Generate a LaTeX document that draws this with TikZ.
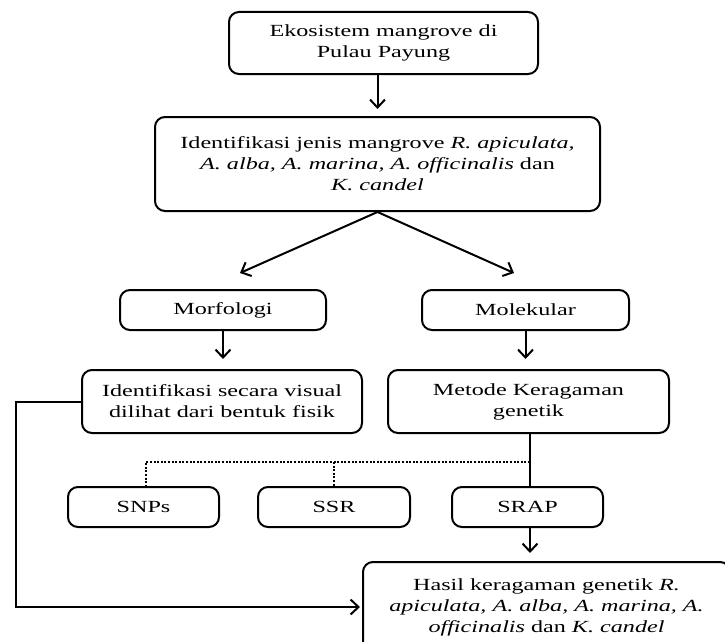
\documentclass[tikz,border=0pt]{standalone}
\usepackage{fontspec}
\setmainfont{Liberation Serif}[FakeStretch=1.42]
\usetikzlibrary{arrows.meta}
\begin{document}
\begin{tikzpicture}[x=1pt,y=-1pt,
  box/.style={draw, line width=2pt, rounded corners=10pt, align=center, inner sep=0pt,
    font=\fontsize{17}{21}\selectfont},
  arr/.style={-{Straight Barb[length=8pt,width=15pt,line width=2pt]}, line width=2pt},
  link/.style={line width=2pt},
  dots/.style={line width=2pt, dash pattern=on 2pt off 1.6pt}]
\useasboundingbox (0,0) rectangle (725,642);
\node[box, minimum width=309pt, minimum height=62pt] (b1) at (383.5,43)
  {\fontsize{17}{24}\selectfont Ekosistem mangrove di\\Pulau Payung};
\node[box, minimum width=445pt, minimum height=94pt] (b2) at (377.5,164)
  {Identifikasi jenis mangrove \textit{R. apiculata,}\\\textit{A. alba, A. marina, A. officinalis} dan\\\textit{K. candel}};
\node[box, minimum width=206pt, minimum height=40pt] (morf) at (223,310) {Morfologi};
\node[box, minimum width=207pt, minimum height=40pt] (molek) at (525.5,310) {Molekular};
\node[box, minimum width=280pt, minimum height=63pt] (vis) at (222,401.5)
  {Identifikasi secara visual\\dilihat dari bentuk fisik};
\node[box, minimum width=281pt, minimum height=63pt] (met) at (528.5,401.5)
  {Metode Keragaman\\genetik};
\node[box, minimum width=151pt, minimum height=40pt] (snps) at (143.5,507) {SNPs};
\node[box, minimum width=152pt, minimum height=40pt] (ssr) at (334,507) {SSR};
\node[box, minimum width=151pt, minimum height=40pt] (srap) at (527.5,507) {SRAP};
\node[box, minimum width=367pt, minimum height=90pt] (hasil) at (546.5,607)
  {Hasil keragaman genetik \textit{R.}\\\textit{apiculata, A. alba, A. marina, A.}\\\textit{officinalis} dan \textit{K. candel}};
\coordinate (tl) at (240,273);
\coordinate (tr) at (514,273);
\coordinate (dj) at (530,462);
% connectors
\draw[arr, shorten >=7pt] (b1.south -| b2.north) -- (b2.north);
\draw[arr] (b2.south) -- (tl);
\draw[arr] (b2.south) -- (tr);
\draw[arr, shorten >=10pt] (morf.south) -- (morf.south |- vis.north);
\draw[arr, shorten >=10pt] (molek.south) -- (molek.south |- met.north);
\draw[link] (dj |- met.south) -- (dj |- srap.north);
\draw[dots] (dj) -- (146,462) -- (146,487);
\draw[dots] (ssr.north |- dj) -- (ssr.north);
\draw[arr, shorten >=8pt] (dj |- srap.south) -- (dj |- hasil.north);
\draw[arr, shorten >=2pt] (vis.west) -- ++(-65,0) |- (hasil.west);
\end{tikzpicture}
\end{document}
